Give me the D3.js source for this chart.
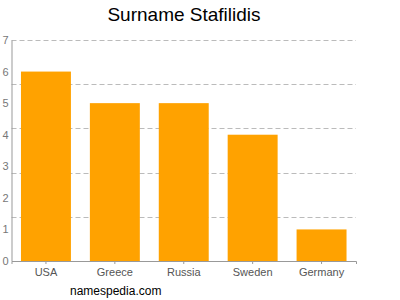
<html>
<head>
<script src="https://d3js.org/d3.v7.min.js"></script>
<style>
  body { margin: 0; background: #fff; }
  text { font-family: "Liberation Sans", Arial, sans-serif; }
</style>
</head>
<body>
<svg id="chart" width="400" height="300"></svg>
<script>
const countries = ["USA", "Greece", "Russia", "Sweden", "Germany"];
const counts = [6, 5, 5, 4, 1];
const yTicks = [0, 1, 2, 3, 4, 5, 6, 7];
const gridValues = [1.4, 2.8, 4.2, 5.6, 7];

const svg = d3.select("svg#chart");
const margin = { top: 40, right: 44, bottom: 39, left: 11.5 };
const chartWidth = 400 - margin.left - margin.right;
const chartHeight = 300 - margin.top - margin.bottom;

const data = countries.map((c, i) => ({ country: c, value: counts[i] }));

const x = d3.scaleBand().domain(countries).range([0, chartWidth]).paddingInner(0.275).paddingOuter(0.1375);
const y = d3.scaleLinear().domain([0, 7]).range([chartHeight, 0]);

const g = svg.append("g").attr("transform", `translate(${margin.left},${margin.top})`);

// dashed gridlines
g.selectAll("line.grid")
  .data(gridValues)
  .join("line")
  .attr("class", "grid")
  .attr("x1", 0).attr("x2", chartWidth)
  .attr("y1", d => Math.round(y(d)) + 0.5).attr("y2", d => Math.round(y(d)) + 0.5)
  .attr("stroke", "#bbb")
  .attr("stroke-dasharray", "5,3");

// bars
g.selectAll("rect.bar")
  .data(data)
  .join("rect")
  .attr("class", "bar")
  .attr("x", d => x(d.country))
  .attr("width", x.bandwidth())
  .attr("y", d => y(d.value))
  .attr("height", d => chartHeight - y(d.value))
  .attr("fill", "#ffa200");

// axes
const leftAxis = d3.axisLeft(y).tickValues(yTicks).tickFormat(d3.format("d")).tickSize(0).tickPadding(3);
const yAxis = g.append("g").call(leftAxis);
yAxis.select(".domain").attr("stroke", "#999");
yAxis.selectAll("text").attr("fill", "#777").style("font-size", "11px");

const bottomAxis = d3.axisBottom(x).tickSize(3).tickPadding(4);
const xAxis = g.append("g").attr("transform", `translate(0,${chartHeight})`).call(bottomAxis);
xAxis.select(".domain").attr("stroke", "#999");
xAxis.selectAll("line").attr("stroke", "#999");
xAxis.selectAll("text").attr("fill", "#555").style("font-size", "11px");

// title and footer
svg.append("text")
  .attr("x", 184).attr("y", 21)
  .attr("text-anchor", "middle")
  .style("font-size", "19px")
  .attr("fill", "#000")
  .text("Surname Stafilidis");

svg.append("text")
  .attr("x", 70).attr("y", 295)
  .style("font-size", "12px")
  .attr("fill", "#000")
  .text("namespedia.com");
</script>
</body>
</html>
